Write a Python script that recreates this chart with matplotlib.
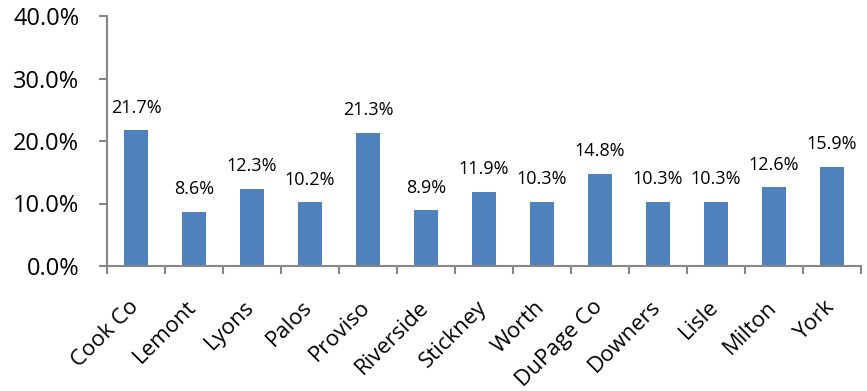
import matplotlib.pyplot as plt
from matplotlib.ticker import FuncFormatter, FixedLocator
from matplotlib.transforms import ScaledTranslation
import numpy as np

plt.rcParams['font.family'] = ['Open Sans', 'DejaVu Sans']

# townships and their rates (percent)
townships = ["Cook Co", "Lemont", "Lyons", "Palos", "Proviso", "Riverside", "Stickney",
             "Worth", "DuPage Co", "Downers", "Lisle", "Milton", "York"]
rates = [21.7, 8.6, 12.3, 10.2, 21.3, 8.9, 11.9, 10.3, 14.8, 10.3, 10.3, 12.6, 15.9]

bar_color = "#4F81BD"
axis_color = "#868686"

fig = plt.figure(figsize=(8.67, 3.91), dpi=100)
ax = fig.add_axes([107/867, 1-266/391, 754/867, 250/391])

x = np.arange(len(townships))
bars = ax.bar(x, rates, width=0.4, color=bar_color)

for xi, v in zip(x, rates):
    ax.text(xi, v + 2.2, f"{v:.1f}%", ha='center', va='bottom', fontsize=13)

ax.set_xlim(-0.5, len(townships) - 0.5)
ax.set_ylim(0, 40)
ax.set_yticks([0, 10, 20, 30, 40])
ax.yaxis.set_major_formatter(FuncFormatter(lambda v, p: f"{v:.1f}%"))

# ticks sit between categories, labels under the bars
ax.xaxis.set_major_locator(FixedLocator(np.arange(-0.5, len(townships), 1.0)))
ax.xaxis.set_major_formatter(FuncFormatter(lambda v, p: ""))
ax.set_xticks(x, minor=True)
ax.set_xticklabels(townships, minor=True, rotation=45, ha='right',
                   rotation_mode='anchor', fontsize=16)
ax.tick_params(axis='x', which='minor', length=0, pad=22)
ax.tick_params(axis='x', which='major', length=6, width=1.5, color=axis_color, direction='out')
ax.tick_params(axis='y', length=6, width=1.5, color=axis_color, labelsize=17, pad=14)

# nudge the slanted labels a little to the left
shift = ScaledTranslation(-8/100, 0, fig.dpi_scale_trans)
for lbl in ax.get_xticklabels(minor=True):
    lbl.set_transform(lbl.get_transform() + shift)

for side in ['top', 'right']:
    ax.spines[side].set_visible(False)
for side in ['left', 'bottom']:
    ax.spines[side].set_color(axis_color)
    ax.spines[side].set_linewidth(1.5)

fig.savefig("out.png", dpi=100)
